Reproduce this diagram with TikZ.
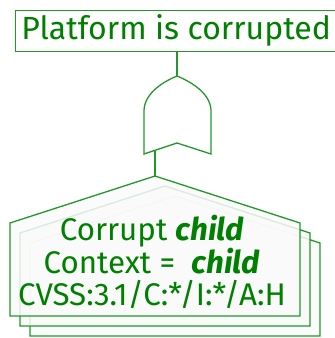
\documentclass[tikz,border=0pt]{standalone}
\usepackage{fontspec}
\setmainfont{Fira Sans}
\definecolor{leaf}{HTML}{008000}
\definecolor{edge}{HTML}{22982A}
\tikzset{
  ftline/.style={draw=edge, line width=1.3pt, line join=miter},
  goalbox/.style={ftline, fill=white, inner sep=0pt, anchor=north west,
    minimum width=321pt, minimum height=41pt, text=leaf,
    font=\fontsize{32}{36}\selectfont},
  housefill/.style={ftline, fill=black!2, fill opacity=0.85},
  houselabel/.style={text=leaf, align=center, inner sep=0pt,
    font=\fontsize{31.3}{32}\selectfont}
}
\begin{document}
\begin{tikzpicture}[x=1pt,y=-1pt]
\useasboundingbox (0,0) rectangle (335,338);

% top event
\node[goalbox] (goal) at (15,9.5) {Platform is corrupted};

% OR gate
\coordinate (gtip) at (177,76);
\coordinate (gout) at (155,150.3);
\draw[ftline] (gtip) .. controls (165,81) and (145,92) .. (144,110)
  -- (144,154) -- (177,143) -- (211,154) -- (211,110)
  .. controls (210,92) and (189,81) .. (gtip);
\draw[ftline] (gtip) -- (gtip |- goal.south);

% stacked leaf events, back to front
\foreach \d in {20,10,0}{
  \draw[housefill, shift={(\d,\d)}]
    (10,223) -- (155,176) -- (300,223) -- (300,316) -- (10,316) -- cycle;
}
\coordinate (apex) at (155,176);
\draw[ftline] (gout) -- (apex);

\node[houselabel] (leaf) at (152,262)
  {Corrupt \textbf{\textit{child}}\\
   Context = \ \textbf{\textit{child}}\\
   CVSS:3.1/C:*/I:*/A:H};
\end{tikzpicture}
\end{document}
